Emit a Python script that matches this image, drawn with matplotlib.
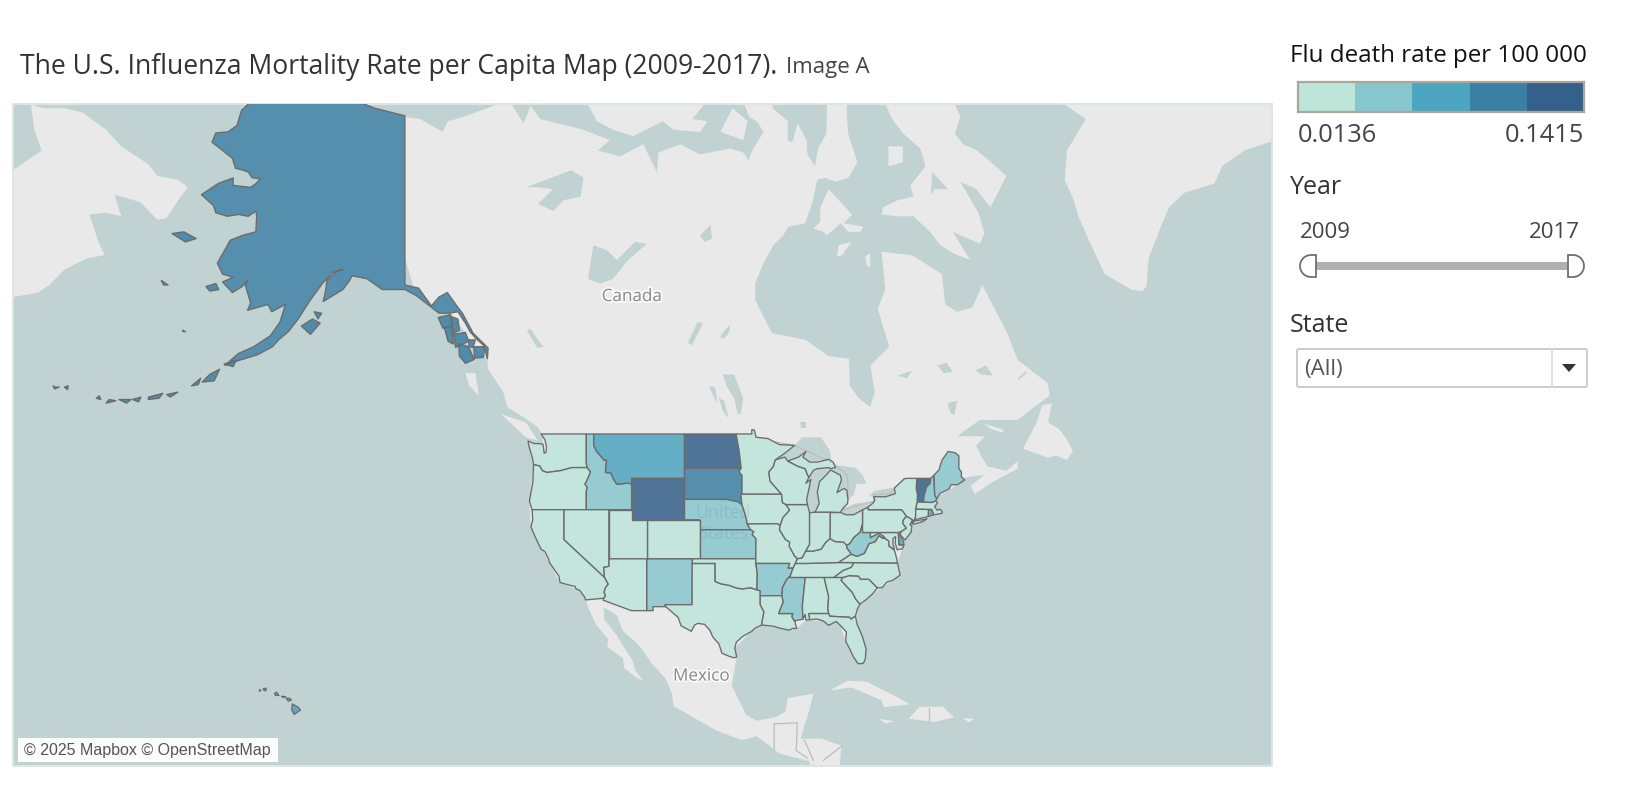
"""
U.S. flu mortality rate map, dashboard style: web-mercator basemap of North
America, states shaded in five steps, plus the legend / filter side panel.
Outlines are rough lon/lat vertices, rates are read off the colour of each state.
"""

import numpy as np
import matplotlib
matplotlib.use("Agg")
import matplotlib.pyplot as plt
import matplotlib.patheffects as pe
from matplotlib.colors import BoundaryNorm, ListedColormap
from matplotlib.patches import Polygon, Rectangle, FancyBboxPatch

W, H = 1636, 790
FONT = "Open Sans"
OCEAN = "#c1d2d2"
LAND = "#e9e9e9"
EDGE = "#6b6b6b"

RATE_BINS = np.linspace(0.0136, 0.1415, 6)
RATE_COLORS = ["#bde5da", "#88c6cd", "#4da5bf", "#3c7fa4", "#356089"]
FILL_ALPHA = 0.85

# --- basemap land ---
NORTH_AMERICA = [(-141, 69.6), (-139, 69.5), (-136, 68.9), (-135.3, 69.4), (-133.3, 69.6), (-129.3, 70.1), (-128, 70.4),
                 (-126.8, 70.1), (-125.3, 69.3), (-124.4, 70.1), (-123.1, 69.5), (-117.4, 69), (-113.9, 68.5), (-115.5, 68),
                 (-112.6, 67.7), (-109.5, 68.3), (-107.7, 66.9), (-107.5, 67.9), (-104.6, 68.3), (-102, 67.8), (-99.3, 68),
                 (-98, 68.1), (-96.3, 67.9), (-95.6, 67.5), (-95.1, 68), (-93.6, 68.9), (-94.5, 69.4), (-95.5, 69.6),
                 (-96.4, 70.4), (-92.5, 70.4), (-92.4, 70), (-90.4, 69.4), (-90.4, 68.5), (-89.8, 68.4), (-89.1, 69.3),
                 (-87.9, 68.5), (-87.8, 67.8), (-86.8, 67.2), (-86.4, 68.1), (-85.3, 68.8), (-85.2, 70.4), (-82.6, 70.4),
                 (-82.6, 69.8), (-82.4, 68.8), (-81.2, 67.4), (-82.4, 66.6), (-84.1, 66.4), (-85.5, 66.6), (-86.5, 66.5),
                 (-87.2, 65.2), (-88.1, 64.1), (-90.3, 63.9), (-91, 63.4), (-92.3, 62.8), (-93.6, 61.7), (-94.7, 60.4),
                 (-94.7, 59.3), (-92.5, 57), (-88, 56.5), (-85, 55.3), (-82.3, 55.1), (-82.2, 53), (-81, 52), (-79.5, 51.3),
                 (-78.9, 52.5), (-79.5, 54.6), (-77, 56), (-78.5, 58.7), (-77.5, 60), (-78, 62.4), (-74, 62.2), (-70, 61),
                 (-69.6, 59), (-68, 58.5), (-66, 58.8), (-64.7, 60.3), (-61.4, 57), (-60, 55), (-56, 53.2),
                 (-55.8, 52.2), (-58, 51.2), (-60, 50.2), (-65, 50.2), (-67, 49.3), (-69, 48.3), (-71, 46.9),
                 (-68.5, 48.8), (-64.3, 48.8), (-65.5, 48), (-64.8, 47), (-64, 46.1), (-61.5, 45.7), (-60, 46.6),
                 (-60, 45.9), (-63.5, 44.6), (-65.7, 43.5), (-66.2, 44.3), (-64.5, 45.3), (-66, 45.2), (-67.2, 45),
                 (-68, 44.4), (-70.5, 43.3), (-71, 42.3), (-70, 41.7), (-73, 41), (-74, 40.5), (-74.9, 38.95),
                 (-75.5, 37.5), (-75.9, 36.55), (-75.55, 35.25), (-77.9, 33.9), (-79.2, 33.2), (-81.2, 31.5),
                 (-81.25, 29.8), (-80.05, 26.9), (-80.4, 25.2), (-81.75, 26), (-82.75, 27.8), (-83.4, 29.6),
                 (-84, 30.1), (-85.7, 30.15), (-88, 30.25), (-89.2, 29.3), (-90.2, 29.1), (-93.84, 29.7),
                 (-95.2, 28.95), (-97.4, 27), (-97.15, 25.9), (-97.8, 22.5), (-95.9, 18.9), (-94.5, 18.15),
                 (-92, 18.6), (-90.7, 19.3), (-90.4, 21), (-87, 21.5), (-87.7, 19), (-88.2, 17.5), (-88.7, 15.9),
                 (-86, 15.9), (-83.3, 15), (-83.6, 11.5), (-87.5, 11.5), (-87.5, 13), (-91.5, 14), (-94.5, 16.2),
                 (-96.5, 15.7), (-100, 17), (-105.5, 20), (-105.7, 21.5), (-106.5, 23.3), (-108.5, 25.3), (-109.5, 26.7),
                 (-110.6, 27.8), (-112.2, 29), (-113, 30.8), (-114.7, 31.7), (-114.7, 30.4), (-113, 28.5), (-112, 27),
                 (-111, 25.7), (-110.5, 24.3), (-109.5, 23.1), (-110.3, 23.4), (-112, 24.6), (-112.2, 25.8),
                 (-114.3, 27.2), (-114.1, 28), (-115.7, 29.7), (-116.7, 31.5), (-117.1, 32.5), (-117.9, 33.6),
                 (-120.5, 34.45), (-121.9, 36.6),
                 (-123.8, 39.3), (-124.35, 40.3), (-124.55, 42.84), (-124, 46.27), (-124.73, 48.38), (-122.75, 48),
                 (-122.8, 49), (-123.5, 49.6), (-125, 50.3), (-127.5, 51.3), (-128, 52.5), (-130, 54.3),
                 (-130.1, 55), (-131.5, 55.8), (-133, 57), (-135, 58.5), (-137.5, 58.7), (-139.5, 59.6), (-141, 62)]
GREENLAND = [(-54.8, 70.4), (-51, 69.5), (-53.5, 68), (-53.8, 66.5), (-52.6, 65.4), (-52, 64.5), (-50.5, 63), (-48.5, 61),
             (-45, 60), (-43.5, 59.9), (-43, 60.2), (-42.7, 62), (-41, 64), (-40, 65), (-38, 65.8), (-34, 66.3), (-33, 67.2),
             (-30, 68), (-26, 68.5), (-20, 70.4)]
BAFFIN = [(-77.8, 70.4), (-76.6, 69.5), (-75.1, 68.8), (-72.9, 68.1), (-72.2, 67.2), (-74.2, 66.2), (-73.8, 65.6),
          (-75.9, 65.4), (-77.8, 65), (-78, 64.6), (-75.9, 64.5), (-73.8, 64.5), (-71.6, 63.6), (-70.2, 62.8), (-68.5, 62.3),
          (-66.3, 61.9), (-68.6, 63.6), (-65, 62.9), (-64.4, 63.5), (-65.2, 64.7), (-67.6, 66.4), (-65.5, 66), (-63.6, 65),
          (-61.5, 66.7), (-63.2, 67.3), (-65.4, 68), (-67.2, 68.3), (-68.3, 68.8), (-67.6, 69.6), (-68.6, 70.4)]
SOUTHAMPTON = [(-86.1, 65), (-85, 66), (-81.9, 64.6), (-83, 64.1), (-80.4, 63.9), (-80.8, 63.6), (-82.4, 63.6), (-83.4, 64.1),
               (-85.2, 63.4), (-85.7, 63.6), (-87, 63.8), (-86.1, 64.2)]
COATS = [(-83.9, 62.1), (-83.7, 62.8), (-82, 63), (-83.2, 62.2)]
MANSEL = [(-80.2, 62.1), (-79.5, 62.3), (-79.5, 61.5), (-79.9, 61.5)]
PRINCE_CHARLES = [(-77.1, 68.2), (-75.2, 68.2), (-75.2, 67.4), (-77.1, 67.2)]
VICTORIA_ISL = [(-117.2, 70.4), (-115.6, 69.4), (-113.5, 69), (-110.8, 68.7), (-106.9, 69.4), (-105.5, 69), (-102, 68.9),
                (-101, 69.4), (-103, 69.5), (-100.9, 70.4)]
KING_WILLIAM = [(-97.7, 70), (-95.7, 69.4), (-96.3, 68.5), (-99.3, 68.9)]
NEWFOUNDLAND = [(-59.3, 47.7), (-57.5, 50), (-56.8, 51.4), (-55.5, 51.6), (-56, 50), (-54.5, 49.4), (-53.5, 48.5), (-52.7, 47.5),
                (-53.5, 46.7), (-55, 47.1), (-56, 46.9)]
ANTICOSTI = [(-64.5, 49.9), (-62, 49.4), (-61.8, 49.1), (-63.5, 49.4)]
VANCOUVER_ISL = [(-128.3, 50.7), (-125, 50), (-123.4, 48.4), (-125, 48.7)]
HAIDA_GWAII = [(-133, 54), (-131.7, 54), (-131.2, 52.2), (-132.5, 53)]
CUBA = [(-84.9, 21.9), (-82.5, 23.1), (-80, 23), (-77, 21.6), (-74.2, 20.2), (-77.7, 19.85), (-78, 20.7), (-82, 22.3)]
HISPANIOLA = [(-74.4, 18.4), (-73, 19.9), (-69.9, 19.9), (-68.4, 18.6), (-71, 18)]
JAMAICA = [(-78.3, 18.4), (-76.3, 18.1), (-77.5, 17.8)]
PUERTO_RICO = [(-67.2, 18.5), (-65.7, 18.4), (-66.5, 17.95)]
CHUKOTKA = [(-192.8, 70.4), (-188.8, 70), (-186, 70), (-183.6, 69.8), (-180.5, 69), (-178.5, 68.2), (-174.9, 67.3),
            (-173.7, 66.7), (-171, 66.5), (-169.7, 66.1), (-170.8, 65.5), (-172.5, 64.4), (-173.7, 64.3), (-176, 65.3),
            (-179.4, 65.7), (-178.5, 64.5), (-180.5, 64.7), (-182.7, 64.6), (-181.5, 63),
            (-180.7, 62.2), (-183, 62), (-186, 61.3), (-188, 60.3), (-189.5, 59.8), (-192.8, 59.5), (-195, 59.5), (-195, 70.4)]
LAND_SHAPES = [NORTH_AMERICA, GREENLAND, BAFFIN, SOUTHAMPTON, COATS, MANSEL, PRINCE_CHARLES, VICTORIA_ISL, KING_WILLIAM,
               NEWFOUNDLAND, ANTICOSTI, VANCOUVER_ISL, HAIDA_GWAII, CUBA, HISPANIOLA, JAMAICA, PUERTO_RICO, CHUKOTKA]

# --- inland water ---
GREAT_BEAR = [(-125, 66.1), (-119, 67), (-117.4, 66.6), (-117.8, 65.6), (-120, 65.4), (-121.4, 64.8), (-123.4, 65.2),
              (-121.4, 66), (-123.5, 66.1)]
GREAT_SLAVE = [(-116.8, 60.7), (-116.1, 62.8), (-114.3, 62.5), (-113, 61.9), (-110.6, 63), (-109, 62.9), (-111.5, 61.9),
               (-113.5, 60.7), (-115.2, 60.4)]
DUBAWNT = [(-102, 63.4), (-100.6, 64), (-100.4, 63.2), (-101.4, 63)]
WILLISTON = [(-124.9, 57.2), (-123.5, 55.9), (-122.6, 56), (-123, 56.2), (-124.4, 57.3)]
REINDEER = [(-102.3, 57.8), (-101.6, 57.7), (-103.1, 56.1), (-103.6, 56.3)]
S_INDIAN = [(-98.1, 57.6), (-99.4, 56.7), (-98.8, 56.6), (-98.1, 57.1)]
WINNIPEG = [(-99, 53.9), (-97.5, 53.9), (-96.3, 52), (-96.6, 50.7), (-97, 50.7), (-97.5, 52), (-98.5, 53)]
MANITOBA = [(-99.5, 52), (-98.8, 51.8), (-98.2, 50.3), (-99, 51)]
WINNIPEGOSIS = [(-100.8, 53), (-100, 52.9), (-99.7, 51.6), (-100.5, 52.5)]
NIPIGON = [(-88.8, 50), (-88, 50), (-88, 49.5), (-88.7, 49.5)]
SMALLWOOD = [(-65.6, 54.2), (-64.2, 54.6), (-63.3, 53.8), (-64.8, 53.9)]
CANIAPISCAU = [(-70.6, 54.6), (-69.4, 54.8), (-68.6, 54.1), (-69.8, 54)]
MELVILLE_LK = [(-60, 53.6), (-58.8, 54.2), (-59, 53.9), (-59.8, 53.5)]
BIENVILLE = [(-75.9, 53.8), (-74, 54.2), (-74.6, 53.6)]
MANICOUAGAN = [(-69.3, 51.6), (-68, 51.8), (-68.4, 50.6), (-68.9, 50.8)]
NETTILLING = [(-71.3, 66.9), (-69.2, 66), (-71, 66), (-71.5, 65.7)]
SUPERIOR = [(-92, 46.75), (-90.8, 46.95), (-90.4, 46.6), (-88.4, 47), (-87.5, 46.5), (-85, 46.75), (-84.6, 46.5),
            (-84.8, 47.5), (-86, 48.7), (-88.5, 48.7), (-89.5, 48), (-90.8, 47.3)]
MICHIGAN = [(-87.5, 41.7), (-86.8, 41.76), (-86.25, 42.6), (-86.5, 43.7), (-86.2, 44.7), (-85.4, 45.25),
            (-84.75, 45.78), (-85, 46), (-86.5, 45.9), (-87, 45.75), (-87.6, 45.1), (-88, 44.55), (-87.55, 44.2),
            (-87.9, 43), (-87.8, 42.5)]
HURON = [(-84.75, 45.78), (-83.45, 45.3), (-83.3, 44.85), (-83.9, 43.65), (-83, 44.05), (-82.6, 43.9), (-82.45, 43),
         (-81.7, 43.4), (-81.3, 44.5), (-80, 44.5), (-80.5, 45.3), (-81.5, 46), (-84, 46.2)]
ERIE = [(-83.45, 41.73), (-82.7, 41.5), (-81.7, 41.5), (-80.52, 41.98), (-79.05, 42.7), (-78.9, 42.9), (-80, 42.7),
        (-81.5, 42.6), (-83.1, 42.05)]
ONTARIO = [(-79.7, 43.3), (-79.05, 43.27), (-77.5, 43.25), (-76.2, 43.55), (-76.3, 44.15), (-77.5, 44), (-79, 43.8)]
ANADYR_BAY = [(-192.8, 70.4), (-190.5, 70.4), (-190, 69), (-189, 68), (-192.8, 67)]
WATER_SHAPES = [GREAT_BEAR, GREAT_SLAVE, DUBAWNT, WILLISTON, REINDEER, S_INDIAN, WINNIPEG, MANITOBA, WINNIPEGOSIS, NIPIGON,
                SMALLWOOD, CANIAPISCAU, MELVILLE_LK, BIENVILLE, MANICOUAGAN, NETTILLING, SUPERIOR, MICHIGAN, HURON, ERIE,
                ONTARIO, ANADYR_BAY]

BORDER_LINES = [[(-92.0, 48.3), (-89.5, 48), (-86, 46.9), (-84.6, 46.5), (-82.5, 45.3), (-82.4, 43), (-83.1, 42),
                 (-79, 42.85), (-79.1, 43.4), (-76.8, 43.6), (-75, 45)],
                [(-92.2, 14.5), (-92.2, 17.8), (-91, 17.8), (-89.15, 17.9), (-89.2, 15.9)],
                [(-89.2, 15.9), (-89.3, 14.4), (-87.8, 13.4)],
                [(-88.2, 15.7), (-87, 13.1)],
                [(-85.7, 13.1), (-83.2, 15)],
                [(-71.7, 19.8), (-71.7, 18.1)]]

# --- states ---
WA = [(-123, 49), (-117.03, 49), (-117.03, 46.42), (-116.92, 46), (-118.98, 46), (-119.3, 45.93), (-120.5, 45.7),
      (-121.2, 45.65), (-122.2, 45.55), (-122.8, 45.7), (-123.2, 46.15), (-124, 46.27), (-124.1, 46.7), (-124.2, 47),
      (-124.6, 47.9), (-124.73, 48.38), (-123.9, 48.16), (-123.1, 48.15), (-122.75, 48.1), (-122.6, 47.3),
      (-122.35, 47.4), (-122.3, 47.9), (-122.5, 48.5)]
OR = [(-124, 46.27), (-123.2, 46.15), (-122.8, 45.7), (-122.2, 45.55), (-121.2, 45.65), (-120.5, 45.7), (-119.3, 45.93),
      (-118.98, 46), (-116.92, 46), (-116.47, 45.6), (-116.85, 44.95), (-117.2, 44.45), (-116.9, 44.15), (-117.03, 43.83),
      (-117.03, 42), (-124.2, 42), (-124.55, 42.84), (-124.1, 44.6)]
ID = [(-117.03, 49), (-116.05, 49), (-116.05, 48), (-115.7, 47.5), (-114.7, 46.7), (-114.35, 46.65), (-114.5, 45.55),
      (-113.8, 45.5), (-113.45, 44.95), (-113, 44.45), (-111.5, 44.55), (-111.05, 44.48), (-111.05, 42), (-117.03, 42),
      (-117.03, 43.83), (-116.9, 44.15), (-117.2, 44.45), (-116.85, 44.95), (-116.47, 45.6), (-116.92, 46),
      (-117.03, 46.42)]
MT = [(-116.05, 49), (-104.05, 49), (-104.05, 45), (-111.05, 45), (-111.05, 44.48), (-111.5, 44.55), (-113, 44.45),
      (-113.45, 44.95), (-113.8, 45.5), (-114.5, 45.55), (-114.35, 46.65), (-114.7, 46.7), (-115.7, 47.5), (-116.05, 48)]
WY = [(-111.05, 45), (-104.05, 45), (-104.05, 41), (-111.05, 41)]
ND = [(-104.05, 49), (-97.23, 49), (-96.85, 47.6), (-96.56, 45.94), (-104.05, 45.94)]
SD = [(-104.05, 45.94), (-96.56, 45.94), (-96.85, 45.6), (-96.45, 45.3), (-96.45, 43.5), (-96.6, 43.5), (-96.45, 42.49),
      (-97, 42.77), (-98.5, 43), (-104.05, 43)]
NE = [(-104.05, 43), (-98.5, 43), (-97, 42.77), (-96.45, 42.49), (-96.1, 41.7), (-95.85, 41), (-95.77, 40.58),
      (-95.31, 40), (-102.05, 40), (-102.05, 41), (-104.05, 41)]
KS = [(-102.05, 40), (-95.31, 40), (-94.9, 39.8), (-95.1, 39.5), (-94.61, 39.1), (-94.62, 37), (-102.04, 37)]
CO = [(-109.05, 41), (-102.05, 41), (-102.05, 37), (-109.05, 37)]
NM = [(-109.05, 37), (-103, 37), (-103.04, 32), (-106.62, 32), (-106.53, 31.78), (-108.2, 31.78), (-108.2, 31.33),
      (-109.05, 31.33)]
UT = [(-114.05, 42), (-111.05, 42), (-111.05, 41), (-109.05, 41), (-109.05, 37), (-114.05, 37)]
AZ = [(-114.05, 37), (-109.05, 37), (-109.05, 31.33), (-111.07, 31.33), (-114.8, 32.5), (-114.72, 32.72), (-114.5, 33),
      (-114.7, 33.4), (-114.5, 33.9), (-114.15, 34.27), (-114.63, 35), (-114.75, 36.1), (-114.05, 36.2)]
NV = [(-120, 42), (-114.05, 42), (-114.05, 36.2), (-114.75, 36.1), (-114.63, 35), (-120, 39)]
CA = [(-124.2, 42), (-120, 42), (-120, 39), (-114.63, 35), (-114.15, 34.27), (-114.5, 33.9), (-114.7, 33.4), (-114.5, 33),
      (-114.72, 32.72), (-117.12, 32.53), (-117.25, 32.85), (-117.9, 33.6), (-118.4, 33.75), (-118.5, 34.03),
      (-119.2, 34.15), (-120.5, 34.45), (-120.65, 35.15), (-121.9, 36.6), (-122, 36.95), (-122.5, 37.75), (-123, 38),
      (-123.8, 39.3), (-124.35, 40.3), (-124.1, 41)]
TX = [(-103.04, 36.5), (-100, 36.5), (-100, 34.56), (-99.2, 34.3), (-98.1, 34.13), (-97.2, 33.85), (-96.4, 33.75),
      (-95.3, 33.88), (-94.48, 33.64), (-94.04, 33.55), (-94.04, 33), (-94.04, 32), (-93.55, 31.2), (-93.75, 30.3),
      (-93.84, 29.7), (-94.7, 29.35), (-95.2, 28.95), (-96.4, 28.35), (-97.2, 27.7), (-97.4, 27), (-97.15, 25.96),
      (-97.5, 25.85), (-98.2, 26.06), (-99.1, 26.4), (-99.5, 27.5), (-100.3, 28.3), (-100.7, 29.1), (-101.4, 29.77),
      (-102.3, 29.88), (-102.7, 29.7), (-103.15, 28.97), (-104.5, 29.6), (-104.9, 30.57), (-106.53, 31.78), (-106.62, 32),
      (-103.04, 32)]
OK = [(-103, 37), (-94.62, 37), (-94.62, 36.5), (-94.43, 35.4), (-94.48, 33.64), (-95.3, 33.88), (-96.4, 33.75),
      (-97.2, 33.85), (-98.1, 34.13), (-99.2, 34.3), (-100, 34.56), (-100, 36.5), (-103.04, 36.5)]
MN = [(-97.23, 49), (-95.15, 49), (-95.15, 49.38), (-94.8, 49.33), (-94.6, 48.72), (-93, 48.6), (-91.5, 48.07), (-89.5, 48),
      (-90.8, 47.3), (-92.05, 46.7), (-92.3, 46.1), (-92.9, 45.6), (-92.75, 44.75), (-91.22, 43.5), (-96.45, 43.5),
      (-96.45, 45.3), (-96.85, 45.6), (-96.56, 45.94), (-96.85, 47.6)]
IA = [(-96.45, 43.5), (-91.22, 43.5), (-91.1, 42.7), (-90.65, 42.5), (-90.15, 41.95), (-91.05, 41.2), (-91.42, 40.38),
      (-91.73, 40.61), (-95.77, 40.58), (-95.85, 41), (-96.1, 41.7), (-96.45, 42.49), (-96.6, 43.5)]
MO = [(-95.77, 40.58), (-91.73, 40.61), (-91.42, 40.38), (-91.5, 40), (-90.7, 39), (-90.15, 38.75), (-90.2, 38.3),
      (-89.5, 37.3), (-89.13, 37), (-89.4, 36.5), (-89.7, 36), (-90.37, 36), (-90.15, 36.5), (-94.62, 36.5), (-94.62, 37),
      (-94.61, 39.1), (-95.1, 39.5), (-94.9, 39.8), (-95.31, 40)]
AR = [(-94.62, 36.5), (-90.15, 36.5), (-90.37, 36), (-89.7, 36), (-90.1, 35.1), (-90.6, 34.7), (-91.1, 33.9), (-91.17, 33),
      (-94.04, 33), (-94.04, 33.55), (-94.48, 33.64), (-94.43, 35.4)]
LA = [(-94.04, 33), (-91.17, 33), (-91, 32.3), (-91.6, 31), (-89.73, 31), (-89.85, 30.65), (-89.55, 30.18), (-89.4, 30.05),
      (-89.4, 29.8), (-89.2, 29.3), (-89.8, 29.3), (-90.2, 29.1), (-91.3, 29.3), (-92.3, 29.55), (-93.84, 29.7),
      (-93.75, 30.3), (-93.55, 31.2), (-94.04, 32)]
MS = [(-90.3, 35), (-88.2, 35), (-88.1, 34.9), (-88.47, 31.9), (-88.4, 30.35), (-89.55, 30.18), (-89.85, 30.65),
      (-89.73, 31), (-91.6, 31), (-91, 32.3), (-91.17, 33), (-91.1, 33.9), (-90.6, 34.7)]
AL = [(-88.2, 35), (-85.6, 35), (-85, 32.9), (-85.1, 31.55), (-85, 31), (-87.6, 31), (-87.5, 30.3), (-88, 30.25),
      (-88.1, 30.9), (-88.4, 30.35), (-88.47, 31.9), (-88.1, 34.9)]
GA = [(-85.6, 35), (-83.1, 35), (-83.35, 34.7), (-82.6, 34), (-81.9, 33.4), (-81.4, 32.6), (-80.85, 32.05), (-81.2, 31.5),
      (-81.45, 30.72), (-82.05, 30.36), (-82.2, 30.57), (-84.86, 30.7), (-85, 31), (-85.1, 31.55), (-85, 32.9)]
FL = [(-87.6, 31), (-85, 31), (-84.86, 30.7), (-82.2, 30.57), (-82.05, 30.36), (-81.45, 30.72), (-81.25, 29.8),
      (-80.55, 28.4), (-80.05, 26.9), (-80.15, 25.75), (-80.4, 25.2), (-81.1, 25.15), (-81.75, 26), (-82.2, 26.9),
      (-82.75, 27.8), (-82.65, 28.9), (-83.4, 29.6), (-84, 30.1), (-85, 29.65), (-85.7, 30.15), (-86.5, 30.38), (-87.5, 30.3)]
SC = [(-83.1, 35), (-82.3, 35.2), (-81.05, 35.15), (-80.8, 34.82), (-79.67, 34.8), (-78.55, 33.86), (-79.2, 33.2),
      (-80, 32.6), (-80.85, 32.05), (-81.4, 32.6), (-81.9, 33.4), (-82.6, 34), (-83.35, 34.7)]
NC = [(-84.32, 35), (-83.1, 35), (-82.3, 35.2), (-81.05, 35.15), (-80.8, 34.82), (-79.67, 34.8), (-78.55, 33.86),
      (-77.9, 33.9), (-77.3, 34.5), (-76.5, 34.7), (-75.55, 35.25), (-75.9, 36.55), (-81.68, 36.59), (-82, 36.1), (-83.1, 35.75)]
TN = [(-90.3, 35), (-88.2, 35), (-85.6, 35), (-84.32, 35), (-83.1, 35.75), (-82, 36.1), (-81.68, 36.59), (-83.67, 36.6),
      (-88.07, 36.5), (-89.4, 36.5), (-89.7, 36), (-90.1, 35.1)]
KY = [(-89.4, 36.5), (-88.07, 36.5), (-83.67, 36.6), (-82, 37.5), (-82.6, 38.15), (-82.6, 38.4), (-83, 38.73), (-84.2, 38.8),
      (-84.82, 39.1), (-85.4, 38.7), (-86, 38), (-87.1, 37.8), (-88.05, 37.8), (-88.5, 37.1), (-89.13, 37)]
VA = [(-83.67, 36.6), (-81.68, 36.59), (-75.9, 36.55), (-76, 37), (-76.3, 37.9), (-77, 38.3), (-77.05, 38.85), (-77.5, 39.1),
      (-77.83, 39.13), (-78.35, 39.4), (-78.87, 38.77), (-79.65, 38.58), (-80.3, 37.55), (-81.25, 37.25), (-81.9, 37.45), (-82, 37.5)]
WV = [(-82.6, 38.4), (-82.6, 38.15), (-82, 37.5), (-81.9, 37.45), (-81.25, 37.25), (-80.3, 37.55), (-79.65, 38.58),
      (-78.87, 38.77), (-78.35, 39.4), (-77.83, 39.13), (-77.72, 39.32), (-78.35, 39.65), (-79.48, 39.2), (-79.48, 39.72),
      (-80.52, 39.72), (-80.52, 40.64), (-80.85, 39.75), (-81.7, 39.2), (-82.2, 38.6)]
MD = [(-79.48, 39.72), (-75.79, 39.72), (-75.7, 38.46), (-75.05, 38.45), (-75.25, 38.03), (-75.95, 37.95), (-76.2, 38.6),
      (-76.15, 39.3), (-76.5, 39.1), (-76.5, 38.5), (-76.3, 38), (-77, 38.3), (-77.05, 38.85), (-77.5, 39.1), (-77.72, 39.32),
      (-78.35, 39.65), (-79.48, 39.2)]
DE = [(-75.79, 39.72), (-75.42, 39.8), (-75.55, 39.45), (-75.1, 38.8), (-75.05, 38.45), (-75.7, 38.46)]
PA = [(-80.52, 41.98), (-79.76, 42.27), (-79.76, 42), (-75.35, 42), (-74.7, 41.36), (-75.13, 40.97), (-75.2, 40.65),
      (-74.72, 40.15), (-75.42, 39.8), (-75.79, 39.72), (-80.52, 39.72)]
NJ = [(-74.7, 41.36), (-73.9, 41), (-74.25, 40.5), (-74, 40.4), (-74.1, 39.75), (-74.9, 38.95), (-75.55, 39.5), (-75.42, 39.8),
      (-74.72, 40.15), (-75.2, 40.65), (-75.13, 40.97)]
NY = [(-79.76, 42.27), (-79.05, 42.7), (-78.9, 42.95), (-79.05, 43.27), (-77.5, 43.25), (-76.2, 43.55), (-76.3, 44.1),
      (-75, 44.95), (-74.7, 45), (-73.35, 45), (-73.4, 44), (-73.25, 43.55), (-73.27, 42.75), (-73.5, 42.05), (-73.5, 41.3),
      (-73.65, 41), (-74, 40.7), (-73.9, 41), (-74.7, 41.36), (-75.35, 42), (-79.76, 42)]
LONG_ISL = [(-74, 40.6), (-73.6, 40.9), (-72.6, 41), (-72, 41.1), (-72.6, 40.8), (-73.6, 40.58)]
VT = [(-73.35, 45), (-71.5, 45), (-71.6, 44.5), (-72.05, 44.2), (-72.4, 43.3), (-72.45, 42.73), (-73.27, 42.75),
      (-73.25, 43.55), (-73.4, 44)]
NH = [(-71.5, 45), (-71.08, 45.3), (-70.98, 43.4), (-70.7, 43.07), (-70.82, 42.87), (-71.3, 42.7), (-72.45, 42.73),
      (-72.4, 43.3), (-72.05, 44.2), (-71.6, 44.5)]
ME = [(-71.08, 45.3), (-70.4, 45.8), (-70.25, 46.2), (-70, 46.7), (-69.22, 47.46), (-68.3, 47.35), (-67.79, 47.07),
      (-67.78, 45.9), (-67.45, 45.6), (-67.45, 45.15), (-67, 44.85), (-68, 44.4), (-68.8, 44.4), (-69.1, 44), (-69.8, 43.75),
      (-70.25, 43.6), (-70.7, 43.07), (-70.98, 43.4)]
MA = [(-73.5, 42.05), (-73.27, 42.75), (-72.45, 42.73), (-71.3, 42.7), (-70.82, 42.87), (-70.6, 42.65), (-71, 42.3),
      (-70.65, 41.95), (-70.25, 42.05), (-70, 41.8), (-70, 41.65), (-70.65, 41.55), (-71.12, 41.5), (-71.38, 42.02), (-71.8, 42.02)]
RI = [(-71.8, 42.02), (-71.38, 42.02), (-71.12, 41.5), (-71.85, 41.32)]
CT = [(-73.5, 42.05), (-71.8, 42.02), (-71.85, 41.32), (-73.65, 41), (-73.5, 41.3)]
OH = [(-84.8, 41.7), (-83.45, 41.73), (-82.7, 41.5), (-81.7, 41.5), (-80.52, 41.98), (-80.52, 40.64), (-80.85, 39.75),
      (-81.7, 39.2), (-82.2, 38.6), (-82.6, 38.4), (-83, 38.73), (-84.2, 38.8), (-84.82, 39.1)]
IN = [(-87.53, 41.7), (-86.8, 41.76), (-84.8, 41.76), (-84.8, 41.7), (-84.82, 39.1), (-85.4, 38.7), (-86, 38), (-87.1, 37.8),
      (-88.05, 37.8), (-87.53, 38.5)]
IL = [(-90.65, 42.5), (-87.8, 42.5), (-87.53, 41.7), (-87.53, 38.5), (-88.05, 37.8), (-88.5, 37.1), (-89.13, 37), (-89.5, 37.3),
      (-90.2, 38.3), (-90.15, 38.75), (-90.7, 39), (-91.5, 40), (-91.42, 40.38), (-91.05, 41.2), (-90.15, 41.95)]
WI = [(-92.75, 44.75), (-92.9, 45.6), (-92.3, 46.1), (-92.05, 46.7), (-90.8, 46.95), (-90.4, 46.6), (-89.1, 46.13), (-88.1, 45.9),
      (-87.8, 45.35), (-87.6, 45.1), (-88, 44.55), (-87.35, 44.9), (-87.55, 44.2), (-87.9, 43), (-87.8, 42.5), (-90.65, 42.5),
      (-91.1, 42.7), (-91.22, 43.5)]
MI_UPPER = [(-90.4, 46.6), (-89.1, 46.13), (-88.1, 45.9), (-87.8, 45.35), (-87.6, 45.1), (-87, 45.75), (-86.5, 45.9), (-85, 46),
            (-84.7, 45.9), (-84.1, 46), (-84.4, 46.5), (-85, 46.75), (-86.5, 46.5), (-87.5, 46.5), (-88.4, 46.95), (-88, 47.45),
            (-89, 46.95)]
MI_LOWER = [(-86.8, 41.76), (-84.8, 41.76), (-83.45, 41.73), (-83.15, 42.1), (-82.5, 42.6), (-82.45, 43), (-82.6, 43.9),
            (-83, 44.05), (-83.9, 43.65), (-83.3, 44.85), (-83.45, 45.3), (-84.75, 45.78), (-85.4, 45.25), (-86.2, 44.7),
            (-86.5, 43.7), (-86.25, 42.6)]

AK_MAIN = [(-141, 69.65), (-141, 60.3), (-139.2, 60.1), (-137.5, 58.9), (-136.5, 59.5), (-135.4, 59.8), (-134, 58.8),
           (-133.4, 58.4), (-132, 57), (-130, 55.9), (-130.1, 55.1), (-130.6, 56.1), (-131.6, 56.6), (-132.4, 57.1), (-133, 57.7),
           (-134, 58.5), (-135.2, 58.4), (-136.5, 58.4), (-138, 59), (-139.5, 59.6), (-141, 60), (-144, 60), (-146, 60.7),
           (-148, 60.9), (-148.3, 60.6), (-149.2, 60), (-151.8, 59.2), (-151.5, 59.9), (-151.3, 60.6), (-150, 61.2), (-149.2, 61.3),
           (-150.6, 61.1), (-151.9, 60.4), (-153.5, 59.3), (-155.1, 58), (-156.4, 57.1), (-157.7, 56.5), (-158.5, 56),
           (-160.5, 55.4), (-162.8, 55), (-164.8, 54.6), (-163, 55.5), (-161, 56), (-158.8, 56.8), (-157.5, 57.8), (-156.8, 59),
           (-158.6, 58.5), (-159.1, 59), (-161.8, 58.6), (-161.4, 59.1), (-162.1, 60.3), (-161.8, 60.6), (-162.5, 60.2),
           (-163.8, 59.8), (-165.1, 60.5), (-163.7, 60.8), (-165.1, 61), (-165.8, 61.7), (-164.7, 62.6), (-164.1, 63.1),
           (-162.4, 63.4), (-160.7, 63.6), (-160.6, 64.5), (-160.7, 64.8), (-161.7, 64.5), (-163, 64.6), (-164.5, 64.5),
           (-166, 64.7), (-166.3, 65.1), (-167.9, 65.7), (-165.7, 66.3), (-163.7, 66.6), (-163.7, 66.2), (-161.4, 66.1),
           (-160.7, 66.3), (-160.1, 66.55), (-161.2, 66.6), (-161.7, 66.9), (-162.4, 67), (-163.4, 67.1), (-163.8, 67.6),
           (-165.1, 68), (-166.5, 68.4), (-166, 68.85), (-164.4, 68.9), (-163.2, 69.2), (-162.6, 69.9), (-161, 70.4),
           (-156.6, 71.35), (-152, 70.85), (-148, 70.4), (-145, 70)]
AK_ISLANDS = [[(-136.6, 58.1), (-135, 58.3), (-134.8, 57.55), (-136, 57.35)],
              [(-135.8, 57.4), (-134.8, 57.45), (-134.6, 56.2), (-135.3, 56.4)],
              [(-134.85, 58.15), (-134, 58), (-133.8, 57.2), (-134.6, 56.95)],
              [(-134.55, 56.9), (-133, 57.05), (-132.6, 56.4), (-134.3, 55.95)],
              [(-132.6, 56.5), (-131.7, 56.5), (-132, 55.95), (-132.5, 56)],
              [(-133.9, 56.25), (-132.6, 56), (-131.85, 55.05), (-133, 54.75), (-133.8, 55.3)],
              [(-131.9, 56), (-130.5, 56), (-130.6, 55.2), (-131.8, 55.15)],
              [(-154.7, 57.5), (-153.2, 58), (-152.2, 57.7), (-153.5, 56.9)],
              [(-153, 58.5), (-152, 58.4), (-152.5, 58)],
              [(-171.8, 63.5), (-170.2, 63.6), (-168.6, 63.2), (-170, 63)],
              [(-167.3, 60.2), (-166, 60.4), (-165.6, 60), (-166.8, 59.9)],
              [(-173.2, 60.6), (-172.3, 60.3), (-172.9, 60.3)],
              [(-170.4, 57.2), (-170, 57.1), (-170.3, 57.1)],
              [(-166.8, 53.9), (-165.5, 54.3), (-166.2, 53.4), (-167.8, 53.3)],
              [(-164.9, 54.7), (-163.3, 55), (-163.7, 54.5)],
              [(-169.2, 53), (-168, 53.6), (-168.3, 53.1)],
              [(-172.5, 52.3), (-171, 52.5), (-172, 52.1)],
              [(-174.9, 52.1), (-173, 52.4), (-173.5, 52), (-174.9, 51.9)],
              [(-177, 51.9), (-175.9, 52.1), (-176.2, 51.7)],
              [(-178.8, 51.9), (-177.2, 51.9), (-177.8, 51.6)],
              [(-180.5, 51.6), (-180.1, 51.9), (-179.2, 51.8)],
              [(-181.8, 52), (-181.4, 52.2), (-181.2, 51.9)],
              [(-186, 52.9), (-185.5, 53), (-185.6, 52.7)],
              [(-187.5, 53), (-187.2, 52.9), (-186.7, 52.9), (-187.3, 52.75)]]
HI = [[(-155.9, 20.25), (-155.1, 19.85), (-154.8, 19.5), (-155.65, 18.95), (-155.95, 19.5)],
      [(-156.7, 20.95), (-156.3, 20.95), (-156, 20.75), (-156.4, 20.6)],
      [(-157.3, 21.2), (-156.75, 21.15), (-157.1, 21.05)],
      [(-158.25, 21.55), (-157.95, 21.7), (-157.65, 21.3), (-158.1, 21.3)],
      [(-159.75, 22.1), (-159.35, 22.2), (-159.35, 21.9), (-159.6, 21.9)],
      [(-160.25, 22), (-160.05, 21.95), (-160.2, 21.8)]]

STATE_NAMES = ["WA", "OR", "ID", "MT", "WY", "ND", "SD", "NE", "KS", "CO", "NM", "UT", "AZ", "NV", "CA", "TX", "OK", "MN",
               "IA", "MO", "AR", "LA", "MS", "AL", "GA", "FL", "SC", "NC", "TN", "KY", "VA", "WV", "MD", "DE", "PA", "NJ",
               "NY", "VT", "NH", "ME", "MA", "RI", "CT", "OH", "IN", "IL", "WI", "MI", "AK", "HI"]
STATE_RATES = [0.03, 0.03, 0.05, 0.08, 0.1415, 0.135, 0.105, 0.055, 0.055, 0.03, 0.055, 0.03, 0.03, 0.03, 0.03, 0.03, 0.03, 0.03,
               0.03, 0.03, 0.055, 0.03, 0.055, 0.03, 0.03, 0.03, 0.03, 0.03, 0.03, 0.03, 0.03, 0.055, 0.03, 0.08, 0.03, 0.03,
               0.03, 0.13, 0.05, 0.055, 0.03, 0.08, 0.03, 0.03, 0.03, 0.03, 0.03, 0.03, 0.105, 0.08]
STATE_SHAPES = [[WA], [OR], [ID], [MT], [WY], [ND], [SD], [NE], [KS], [CO], [NM], [UT], [AZ], [NV], [CA], [TX], [OK], [MN],
                [IA], [MO], [AR], [LA], [MS], [AL], [GA], [FL], [SC], [NC], [TN], [KY], [VA], [WV], [MD], [DE], [PA], [NJ],
                [NY, LONG_ISL], [VT], [NH], [ME], [MA], [RI], [CT], [OH], [IN], [IL], [WI], [MI_UPPER, MI_LOWER],
                [AK_MAIN] + AK_ISLANDS, HI]

MAP_LABELS = [("Canada", -111.0, 59.5), ("Mexico", -101.8, 23.6)]
US_LABEL = ["United", "States"]
US_LABEL_LATS = [41.68, 39.58]
LEGEND_LOW, LEGEND_HIGH = "0.0136", "0.1415"
YEAR_FROM, YEAR_TO = "2009", "2017"


def merc(lat):
    return np.log(np.tan(np.pi / 4 + np.radians(lat) / 2))


def project(shape):
    pts = np.array(shape, dtype=float)
    return np.column_stack([pts[:, 0], merc(pts[:, 1])])


fig = plt.figure(figsize=(W / 100, H / 100), dpi=100, facecolor="white")

# map panel, pixel box 13..1272 x 104..766
ax = fig.add_axes([13 / W, 1 - 766 / H, (1272 - 13) / W, (766 - 104) / H])
ax.set_xlim(-192.8, -26.4)
ax.set_ylim(0.2179, 1.745)
ax.set_xticks([])
ax.set_yticks([])
ax.set_facecolor(OCEAN)
for side in ax.spines.values():
    side.set_color("#dfe5e5")
    side.set_linewidth(1.4)

for shape in LAND_SHAPES + [AK_MAIN]:
    ax.add_patch(Polygon(project(shape), fc=LAND, ec="none", zorder=1))
for shape in WATER_SHAPES:
    ax.add_patch(Polygon(project(shape), fc=OCEAN, ec="none", zorder=2))
for line in BORDER_LINES:
    xy = project(line)
    ax.plot(xy[:, 0], xy[:, 1], color="#bdbdbd", lw=0.9, zorder=3)

halo = [pe.withStroke(linewidth=2.5, foreground="white", alpha=0.8)]
for name, lon, lat in MAP_LABELS:
    ax.text(lon, merc(lat), name, family=FONT, fontsize=12.3, color="#8a8a8a", ha="center", va="center",
            path_effects=halo, zorder=4)
for word, lat in zip(US_LABEL, US_LABEL_LATS):
    ax.text(-98.9, merc(lat), word, family=FONT, fontsize=12.8, color="#8a8a8a", ha="center", va="center", zorder=4)

cmap = ListedColormap(RATE_COLORS)
norm = BoundaryNorm(RATE_BINS, cmap.N)
for name, rate, parts in zip(STATE_NAMES, STATE_RATES, STATE_SHAPES):
    fill = cmap(norm(rate), alpha=FILL_ALPHA)
    for part in parts:
        ax.add_patch(Polygon(project(part), fc=fill, ec=EDGE, lw=0.95, joinstyle="round", zorder=5))

# overlay in pixel coordinates for the text and the filter widgets
ui = fig.add_axes([0, 0, 1, 1], facecolor="none", zorder=10)
ui.set_xlim(0, W)
ui.set_ylim(H, 0)
ui.axis("off")

ui.text(20, 67, "The U.S. Influenza Mortality Rate per Capita Map (2009-2017).", family=FONT, fontsize=19.1,
        color="#333333", va="center")
ui.text(786, 68, "Image A", family=FONT, fontsize=16, color="#444444", va="center")

ui.add_patch(Rectangle((18, 738), 260, 24, fc="white", ec="none", alpha=0.95))
ui.text(24, 750, "© 2025 Mapbox © OpenStreetMap", family="Liberation Sans", fontsize=11.5, color="#555555", va="center")

ui.text(1290, 56, "Flu death rate per 100 000", family=FONT, fontsize=17.4, color="#111111", va="center")

# stepped legend bar
cb = fig.add_axes([1298 / W, 1 - 112 / H, (1584 - 1298) / W, (112 - 82) / H])
cb.pcolormesh(RATE_BINS, [0, 1], [RATE_BINS[:-1] + 1e-6], cmap=cmap, norm=norm)
cb.set_xticks([])
cb.set_yticks([])
for side in cb.spines.values():
    side.set_color("#a9a69a")
    side.set_linewidth(1.6)
ui.text(1298, 136, LEGEND_LOW, family=FONT, fontsize=18.3, color="#444444", va="center")
ui.text(1584, 136, LEGEND_HIGH, family=FONT, fontsize=18.3, color="#444444", va="center", ha="right")

ui.text(1290, 188, "Year", family=FONT, fontsize=18, fontweight="medium", color="#333333", va="center")
ui.text(1300, 232, YEAR_FROM, family=FONT, fontsize=16, color="#444444", va="center")
ui.text(1580, 232, YEAR_TO, family=FONT, fontsize=16, color="#444444", va="center", ha="right")

# slider track and the two half round handles
ui.add_patch(Rectangle((1315, 262), 253, 8, fc="#b0b0b0", ec="none"))
theta = np.radians(np.linspace(90, 270, 30))
for xflat, sign in [(1316, 1), (1568, -1)]:
    arc_x = xflat - sign * 5 + sign * 11 * np.cos(theta)
    arc_y = 266 - 11 * np.sin(theta)
    outline = np.column_stack([np.r_[xflat, arc_x, xflat], np.r_[255, arc_y, 277]])
    ui.add_patch(Polygon(outline, closed=True, fc="white", ec="#707070", lw=1.3))

ui.text(1290, 326, "State", family=FONT, fontsize=18, fontweight="medium", color="#333333", va="center")

# dropdown
ui.add_patch(FancyBboxPatch((1297, 349), 290, 38, boxstyle="round,pad=0,rounding_size=2", fc="white", ec="#cccccc", lw=1.4))
ui.plot([1552, 1552], [349, 387], color="#dddddd", lw=1.2)
ui.add_patch(Polygon([(1562, 364), (1576, 364), (1569, 372)], fc="#333333", ec="none"))
ui.text(1304, 370, "(All)", family=FONT, fontsize=16, color="#555555", va="center")

fig.savefig("out.png", dpi=100)
